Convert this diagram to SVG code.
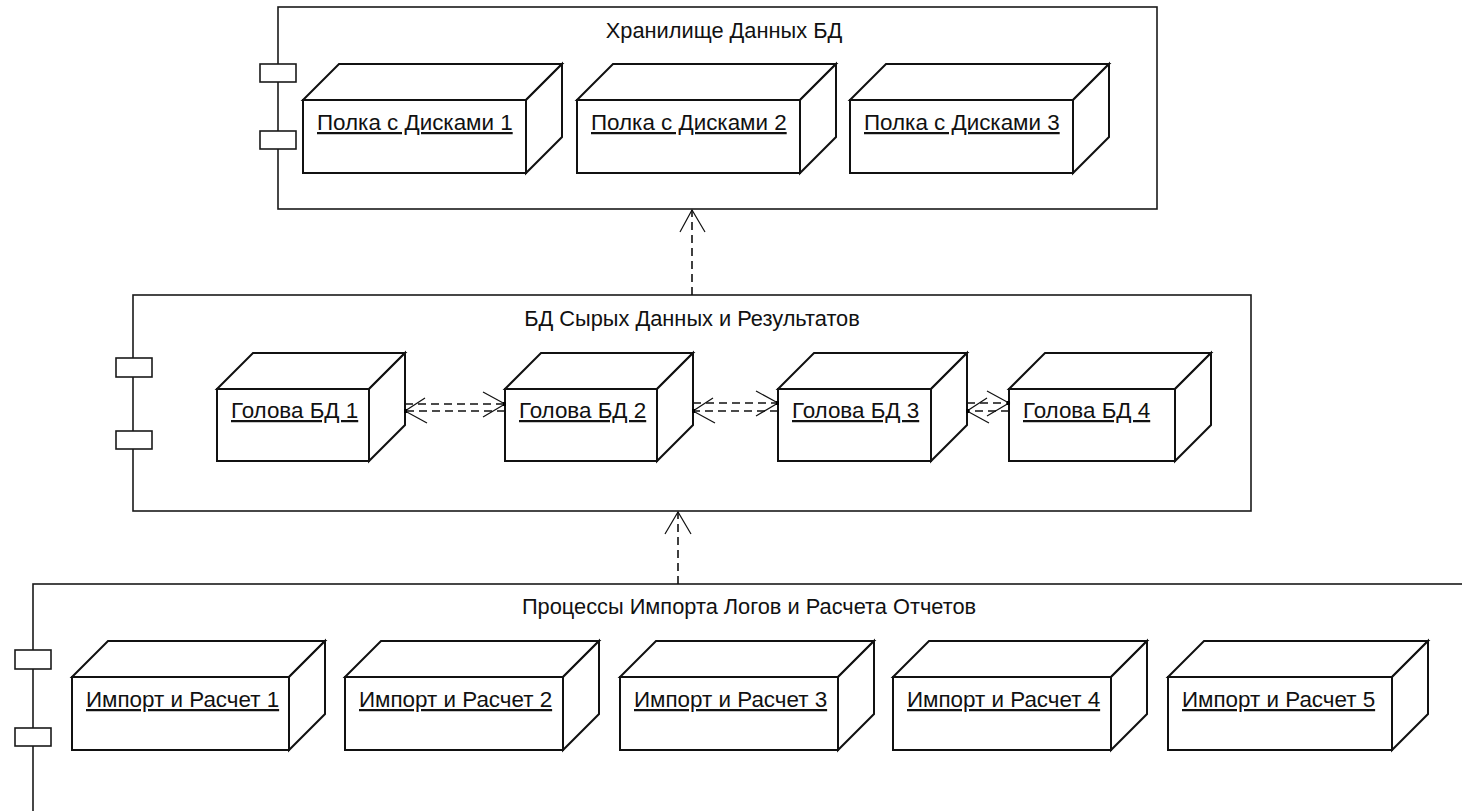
<svg xmlns="http://www.w3.org/2000/svg" width="1462" height="811" viewBox="0 0 1462 811">
<defs>
<style>
.cont{fill:#fff;stroke:#1a1a1a;stroke-width:1.6}
.port{fill:#fff;stroke:#1a1a1a;stroke-width:1.6}
.face{fill:#fff;stroke:#111;stroke-width:2;stroke-linejoin:miter}
.title{font-family:"Liberation Sans",Arial,sans-serif;font-size:21.8px;fill:#111;text-anchor:middle}
.lbl{font-family:"Liberation Sans",Arial,sans-serif;font-size:22.4px;fill:#111;text-decoration:underline}
.dep{fill:none;stroke:#111;stroke-width:1.6;stroke-dasharray:8 5}
.head{fill:none;stroke:#111;stroke-width:1.2}
.dot{fill:#000}
</style>
</defs>
<rect width="1462" height="811" fill="#fff"/>

<g id="storage">
<rect class="cont" x="278" y="7" width="879" height="202"/>
<rect class="port" x="260" y="64" width="36" height="18"/>
<rect class="port" x="260" y="131" width="36" height="18"/>
<text class="title" x="724" y="38">Хранилище Данных БД</text>
</g>
<g id="shelf1">
<polygon class="face" points="303,100 339,64 562,64 526,100"/>
<polygon class="face" points="526,100 562,64 562,137 526,173"/>
<rect class="face" x="303" y="100" width="223" height="73"/>
<text class="lbl" x="317" y="130">Полка с Дисками 1</text>
</g>
<g id="shelf2">
<polygon class="face" points="577,100 613,64 836,64 800,100"/>
<polygon class="face" points="800,100 836,64 836,137 800,173"/>
<rect class="face" x="577" y="100" width="223" height="73"/>
<text class="lbl" x="591" y="130">Полка с Дисками 2</text>
</g>
<g id="shelf3">
<polygon class="face" points="850,100 886,64 1109,64 1073,100"/>
<polygon class="face" points="1073,100 1109,64 1109,137 1073,173"/>
<rect class="face" x="850" y="100" width="223" height="73"/>
<text class="lbl" x="864" y="130">Полка с Дисками 3</text>
</g>

<g id="database">
<rect class="cont" x="133" y="295" width="1118" height="216"/>
<rect class="port" x="116" y="358" width="36" height="19"/>
<rect class="port" x="116" y="431" width="36" height="18"/>
<text class="title" x="692" y="326">БД Сырых Данных и Результатов</text>
</g>
<g id="head1">
<polygon class="face" points="217,389 253,353 405,353 369,389"/>
<polygon class="face" points="369,389 405,353 405,425 369,461"/>
<rect class="face" x="217" y="389" width="152" height="72"/>
<text class="lbl" x="231" y="418">Голова БД 1</text>
</g>
<g id="head2">
<polygon class="face" points="505,389 541,353 693,353 657,389"/>
<polygon class="face" points="657,389 693,353 693,425 657,461"/>
<rect class="face" x="505" y="389" width="152" height="72"/>
<text class="lbl" x="519" y="418">Голова БД 2</text>
</g>
<g id="head3">
<polygon class="face" points="778,389 814,353 967,353 931,389"/>
<polygon class="face" points="931,389 967,353 967,425 931,461"/>
<rect class="face" x="778" y="389" width="153" height="72"/>
<text class="lbl" x="792" y="418">Голова БД 3</text>
</g>
<g id="head4">
<polygon class="face" points="1009,389 1045,353 1211,353 1175,389"/>
<polygon class="face" points="1175,389 1211,353 1211,425 1175,461"/>
<rect class="face" x="1009" y="389" width="166" height="72"/>
<text class="lbl" x="1023" y="418">Голова БД 4</text>
</g>

<g id="processes">
<rect class="cont" x="33" y="584" width="1480" height="300"/>
<rect class="port" x="15" y="650" width="36" height="19"/>
<rect class="port" x="15" y="728" width="36" height="18"/>
<text class="title" x="749" y="614">Процессы Импорта Логов и Расчета Отчетов</text>
</g>
<g id="import1">
<polygon class="face" points="72,677 108,641 325,641 289,677"/>
<polygon class="face" points="289,677 325,641 325,714 289,750"/>
<rect class="face" x="72" y="677" width="217" height="73"/>
<text class="lbl" x="86" y="707">Импорт и Расчет 1</text>
</g>
<g id="import2">
<polygon class="face" points="345,677 381,641 599,641 563,677"/>
<polygon class="face" points="563,677 599,641 599,714 563,750"/>
<rect class="face" x="345" y="677" width="218" height="73"/>
<text class="lbl" x="359" y="707">Импорт и Расчет 2</text>
</g>
<g id="import3">
<polygon class="face" points="620,677 656,641 874,641 838,677"/>
<polygon class="face" points="838,677 874,641 874,714 838,750"/>
<rect class="face" x="620" y="677" width="218" height="73"/>
<text class="lbl" x="634" y="707">Импорт и Расчет 3</text>
</g>
<g id="import4">
<polygon class="face" points="893,677 929,641 1147,641 1111,677"/>
<polygon class="face" points="1111,677 1147,641 1147,714 1111,750"/>
<rect class="face" x="893" y="677" width="218" height="73"/>
<text class="lbl" x="907" y="707">Импорт и Расчет 4</text>
</g>
<g id="import5">
<polygon class="face" points="1168,677 1204,641 1428,641 1392,677"/>
<polygon class="face" points="1392,677 1428,641 1428,714 1392,750"/>
<rect class="face" x="1168" y="677" width="224" height="73"/>
<text class="lbl" x="1182" y="707">Импорт и Расчет 5</text>
</g>

<g id="connectors">
<line class="dep" x1="692" y1="295" x2="692" y2="210"/>
<polyline class="head" points="680,232 692,210 705,232"/>
<line class="dep" x1="678" y1="584" x2="678" y2="512"/>
<polyline class="head" points="665,534 678,512 691,534"/>
<line class="dep" x1="405" y1="404" x2="505" y2="404"/>
<polyline class="head" points="483,392 505,404 483,417"/>
<line class="dep" x1="505" y1="411" x2="405" y2="411"/>
<polyline class="head" points="425,398 405,411 427,423"/>
<rect class="dot" x="404" y="409" width="3" height="4"/>
<rect class="dot" x="503" y="402" width="3" height="4"/>
<line class="dep" x1="693" y1="403" x2="778" y2="403"/>
<polyline class="head" points="756,391 778,403 756,416"/>
<line class="dep" x1="778" y1="411" x2="693" y2="411"/>
<polyline class="head" points="713,398 693,411 715,423"/>
<rect class="dot" x="692" y="409" width="3" height="4"/>
<rect class="dot" x="776" y="401" width="3" height="4"/>
<line class="dep" x1="967" y1="403" x2="1009" y2="403"/>
<polyline class="head" points="987,391 1009,403 987,416"/>
<line class="dep" x1="1009" y1="411" x2="967" y2="411"/>
<polyline class="head" points="987,398 967,411 989,423"/>
<rect class="dot" x="966" y="409" width="3" height="4"/>
<rect class="dot" x="1007" y="401" width="3" height="4"/>
</g>
</svg>
